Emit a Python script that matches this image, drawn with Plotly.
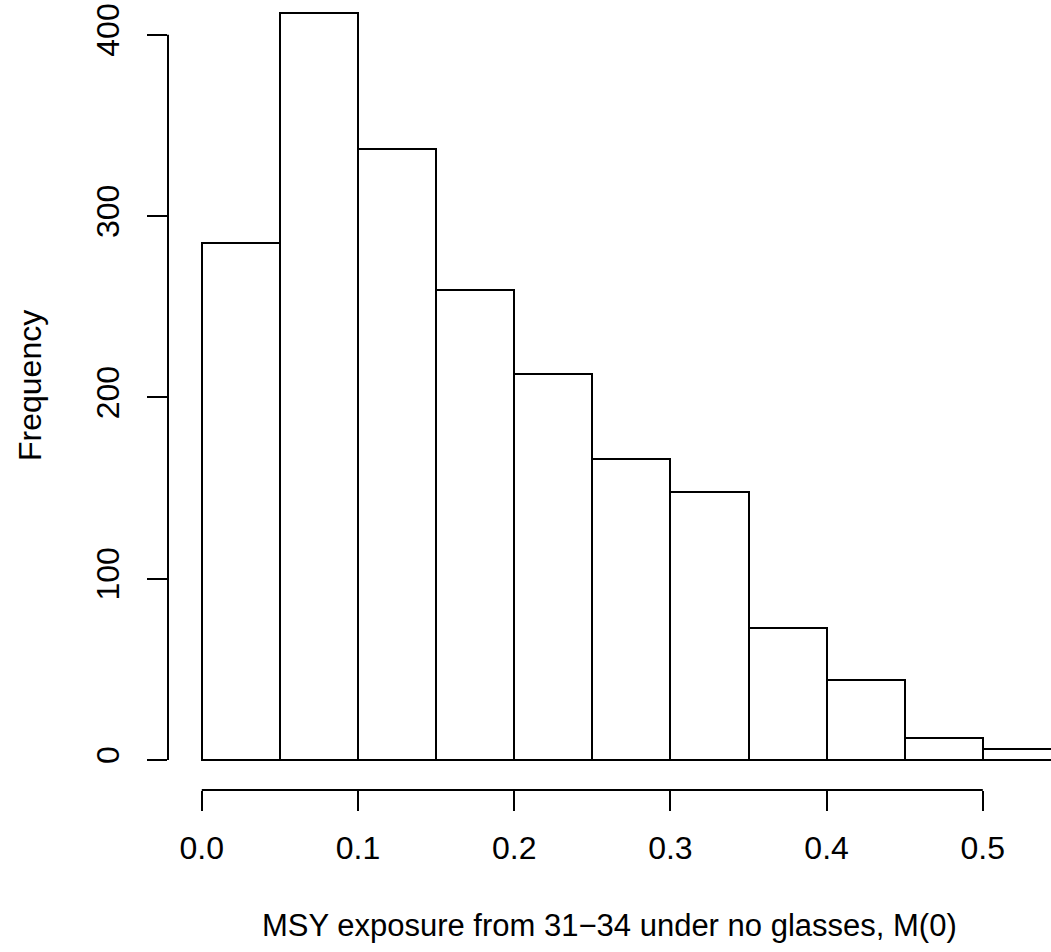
import plotly.graph_objects as go

# Histogram data (bin edges of width 0.05)
bin_left = [0.00, 0.05, 0.10, 0.15, 0.20, 0.25, 0.30, 0.35, 0.40, 0.45, 0.50]
bin_width = 0.05
counts = [285, 412, 337, 259, 213, 166, 148, 73, 44, 12, 6]

x_tickvals = [0.0, 0.1, 0.2, 0.3, 0.4, 0.5]
x_ticktext = ["0.0", "0.1", "0.2", "0.3", "0.4", "0.5"]
y_tickvals = [0, 100, 200, 300, 400]
y_ticktext = ["0", "100", "200", "300", "400"]

x_title = "MSY exposure from 31\u221234 under no glasses, M(0)"
y_title = "Frequency"

W, H = 1051, 952
L, R, T, B = 168, 0, 0, 162
PW, PH = W - L - R, H - T - B

def px_to_paper_x(px):
    return (px - L) / PW

def px_to_paper_y(py):
    return (H - B - py) / PH

FONT = "Liberation Sans, Arial, Helvetica, sans-serif"
FS = 32
centers = [b + bin_width / 2 for b in bin_left]

fig = go.Figure()
fig.add_trace(go.Bar(
    x=centers, y=counts, width=[bin_width] * len(counts),
    marker=dict(color="white", line=dict(color="black", width=2)),
    hoverinfo="skip", showlegend=False,
))

fig.update_layout(
    width=W, height=H,
    margin=dict(l=L, r=R, t=T, b=B, pad=0),
    plot_bgcolor="white", paper_bgcolor="white",
    font=dict(family=FONT, size=FS, color="black"),
    bargap=0,
    xaxis=dict(
        range=[-0.02164, 0.54366], showgrid=False, zeroline=False, showline=False,
        tickmode="array", tickvals=x_tickvals, ticktext=x_ticktext,
        ticks="outside", ticklen=20, tickwidth=2, tickcolor="black",
        ticklabelstandoff=10,
        tickfont=dict(family=FONT, size=FS, color="black"),
    ),
    yaxis=dict(
        range=[-16.56, 419.2], showgrid=False, zeroline=False, showline=False,
        tickmode="array", tickvals=y_tickvals, ticktext=y_ticktext,
        ticks="outside", ticklen=20, tickwidth=2, tickcolor="black",
        tickangle=-90, ticklabelstandoff=15,
        tickfont=dict(family=FONT, size=FS, color="black"),
    ),
    shapes=[
        dict(type="line", xref="x", yref="paper", x0=x_tickvals[0], x1=x_tickvals[-1], y0=0, y1=0,
             line=dict(color="black", width=2)),
        dict(type="line", xref="paper", yref="y", x0=0, x1=0, y0=y_tickvals[0], y1=y_tickvals[-1],
             line=dict(color="black", width=2)),
    ],
    annotations=[
        dict(text=x_title, xref="paper", yref="paper", x=px_to_paper_x(609.5), y=px_to_paper_y(925),
             xanchor="center", yanchor="middle", showarrow=False,
             font=dict(family=FONT, size=31, color="black")),
        dict(text=y_title, xref="paper", yref="paper", x=px_to_paper_x(30), y=px_to_paper_y(386),
             xanchor="center", yanchor="middle", textangle=-90, showarrow=False,
             font=dict(family=FONT, size=FS, color="black")),
    ],
)

fig.write_html("out.html")
